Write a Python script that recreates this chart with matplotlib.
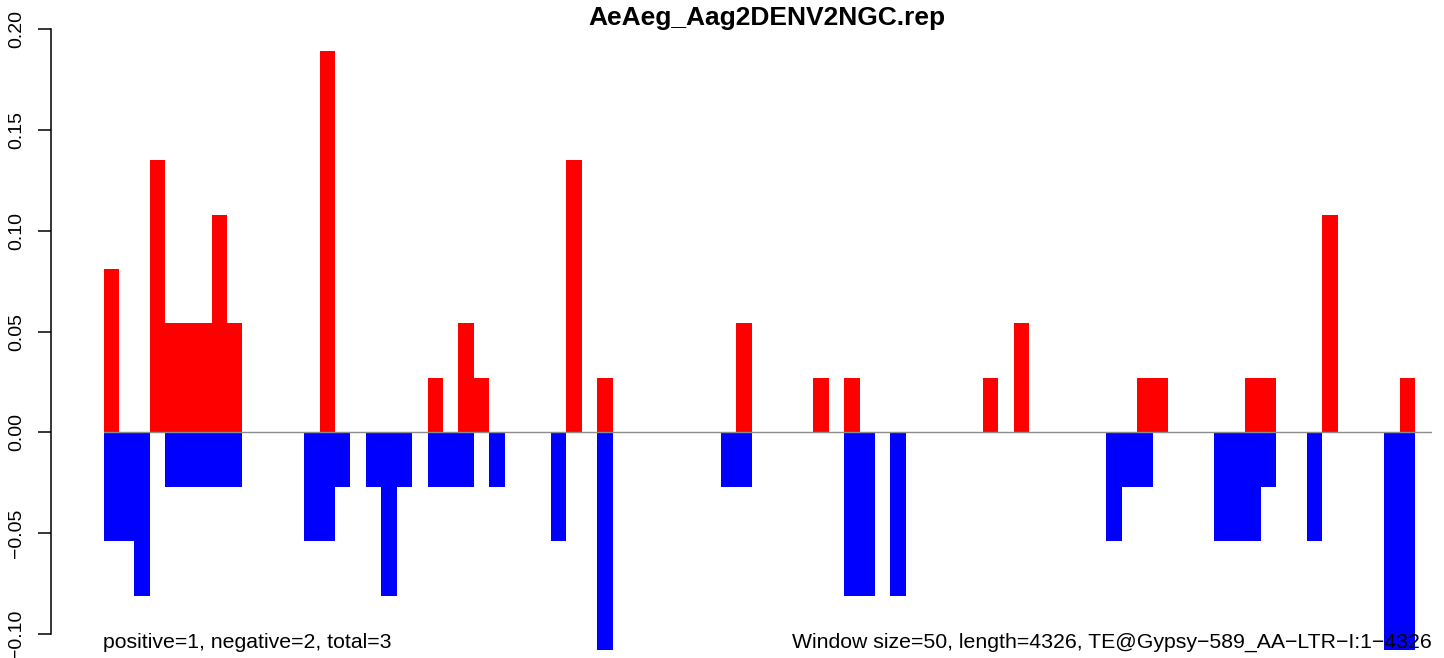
import matplotlib
matplotlib.use("Agg")
import matplotlib.pyplot as plt

# windows with positive / negative signal (window index, value)
pos_windows = [0, 3, 4, 5, 6, 7, 8, 14, 21, 23, 24, 30, 32, 41, 46, 48, 57, 59,
               67, 68, 74, 75, 79, 84]
pos_values = [0.081, 0.135, 0.054, 0.054, 0.054, 0.108, 0.054, 0.189, 0.027,
              0.054, 0.027, 0.135, 0.027, 0.054, 0.027, 0.027, 0.027, 0.054,
              0.027, 0.027, 0.027, 0.027, 0.108, 0.027]

neg_windows = [0, 1, 2, 4, 5, 6, 7, 8, 13, 14, 15, 17, 18, 19, 21, 22, 23, 25,
               29, 32, 40, 41, 48, 49, 51, 65, 66, 67, 72, 73, 74, 75, 78, 83, 84]
neg_values = [-0.054, -0.054, -0.081, -0.027, -0.027, -0.027, -0.027, -0.027,
              -0.054, -0.054, -0.027, -0.027, -0.081, -0.027, -0.027, -0.027,
              -0.027, -0.027, -0.054, -0.108, -0.027, -0.027, -0.081, -0.081,
              -0.081, -0.054, -0.027, -0.027, -0.054, -0.054, -0.054, -0.027,
              -0.054, -0.108, -0.108]

y_ticks = [-0.10, -0.05, 0.00, 0.05, 0.10, 0.15, 0.20]

title = "AeAeg_Aag2DENV2NGC.rep"
left_note = "positive=1, negative=2, total=3"
right_note = "Window size=50, length=4326, TE@Gypsy\u2212589_AA\u2212LTR\u2212I:1\u22124326"

plt.rcParams['font.family'] = ['Liberation Sans', 'DejaVu Sans']

W, H = 1444, 658
fig = plt.figure(figsize=(W / 100, H / 100), dpi=100)
ax = fig.add_axes([103.5 / W, 0, (1432 - 103.5) / W, 1])

ax.bar(pos_windows, pos_values, width=1, align='edge', color='#FF0000',
       linewidth=0, antialiased=False)
ax.bar(neg_windows, neg_values, width=1, align='edge', color='#0000FF',
       linewidth=0, antialiased=False)
ax.axhline(0, color='#8c8c8c', lw=1, zorder=3)

ax.set_xlim(0, 86.1)
ax.set_ylim(-0.1119, 0.2144)

for s in ['top', 'right', 'bottom']:
    ax.spines[s].set_visible(False)
ax.spines['left'].set_position(('outward', 38))
ax.spines['left'].set_bounds(-0.10, 0.20)
ax.spines['left'].set_linewidth(1.1)
ax.set_xticks([])
ax.set_yticks(y_ticks)
ax.set_yticklabels([f"{v:.2f}".replace('-', '\u2212') for v in y_ticks])
ax.tick_params(axis='y', length=9.5, width=1.1, pad=9, labelsize=14)
plt.setp(ax.get_yticklabels(), rotation=90, va='center')

fig.text(767 / W, 1 - 25 / H, title, ha='center', va='baseline',
         fontsize=19, fontweight='bold')
fig.text(103 / W, 1 - 648 / H, left_note, ha='left', va='baseline',
         fontsize=15.3, zorder=5)
fig.text(1432 / W, 1 - 648 / H, right_note, ha='right', va='baseline',
         fontsize=15.3, zorder=5)

fig.savefig("out.png", dpi=100)
